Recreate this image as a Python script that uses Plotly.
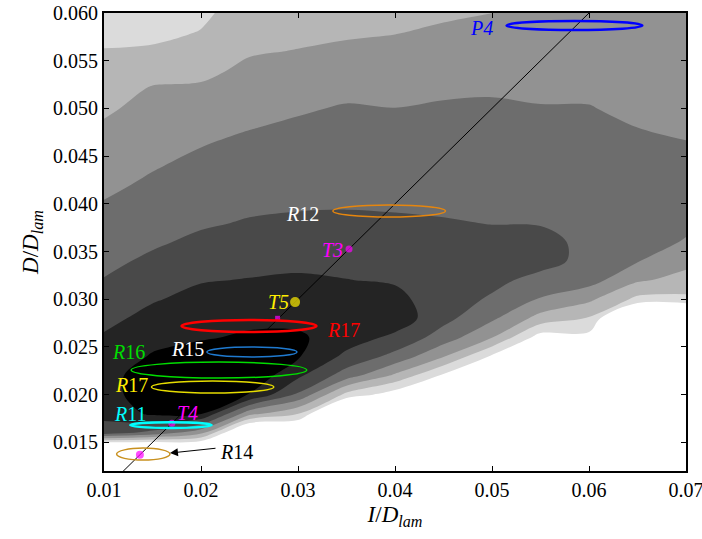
import numpy as np
import plotly.graph_objects as go

# ---------------- background density field (level index) ----------------
x_grid = [0.010, 0.015, 0.020, 0.025, 0.030, 0.035, 0.040, 0.045, 0.050, 0.055, 0.060, 0.065, 0.070]
y_grid = [0.012, 0.014, 0.016, 0.018, 0.020, 0.022, 0.024, 0.026, 0.028, 0.030, 0.032, 0.034, 0.036,
          0.038, 0.040, 0.042, 0.044, 0.046, 0.048, 0.050, 0.052, 0.054, 0.056, 0.058, 0.060]

# one list per x column (bottom -> top)
level_x010 = [-8, -4, 5.0, 5.8, 5.8, 5.8, 5.8, 5.6, 5.24, 4.89, 4.54, 4.28, 4.04, 3.79, 3.55, 3.31, 3.08, 2.85, 2.62, 2.36, 2.09, 1.82, 1.54, 1.27, 1.0]
level_x015 = [-8, -3.43, 4.2, 6.67, 7.5, 7.5, 6.6, 6.16, 5.79, 5.42, 5.05, 4.67, 4.37, 4.13, 3.89, 3.65, 3.43, 3.22, 3.01, 2.79, 2.58, 2.18, 1.66, 1.2, 1.0]
level_x020 = [-8, -2.55, 2.8, 6.55, 7.5, 7.5, 7.0, 6.4, 6.11, 5.78, 5.44, 5.07, 4.69, 4.39, 4.17, 3.94, 3.72, 3.49, 3.2, 2.91, 2.63, 2.29, 1.91, 1.54, 1.3]
level_x025 = [-8, -6, -1.92, 2.83, 6.45, 7.3, 7.3, 6.65, 6.25, 5.89, 5.54, 5.21, 4.89, 4.57, 4.33, 4.12, 3.9, 3.69, 3.47, 3.2, 2.94, 2.68, 2.42, 2.2, 2.0]
level_x030 = [-8, -6, -1.59, 1.53, 4.34, 5.7, 6.6, 6.65, 6.24, 5.93, 5.62, 5.3, 4.97, 4.65, 4.4, 4.21, 4.01, 3.82, 3.63, 3.41, 3.12, 2.82, 2.53, 2.3, 2.1]
level_x035 = [-8, -6, -5, -2.6, 1.18, 4.0, 5.25, 6.0, 5.9, 5.71, 5.52, 5.24, 4.95, 4.66, 4.43, 4.26, 4.09, 3.92, 3.75, 3.57, 3.3, 2.97, 2.64, 2.4, 2.25]
level_x040 = [-8, -6, -5, -3, -0.07, 2.31, 4.19, 5.27, 6.1, 5.77, 5.4, 5.14, 4.88, 4.62, 4.4, 4.22, 4.05, 3.87, 3.69, 3.51, 3.25, 2.98, 2.71, 2.47, 2.3]
level_x045 = [-8, -6, -5, -4, -2, 0.32, 2.55, 4.04, 4.8, 4.95, 4.95, 4.85, 4.7, 4.55, 4.38, 4.22, 4.06, 3.9, 3.74, 3.59, 3.38, 3.12, 2.86, 2.6, 2.4]
level_x050 = [-8, -6, -5, -4, -3, -2, 0.335, 2.54, 3.68, 4.38, 4.75, 4.9, 4.7, 4.48, 4.34, 4.19, 4.05, 3.9, 3.75, 3.6, 3.43, 3.19, 2.95, 2.72, 2.48]
level_x055 = [-8, -6, -5, -4, -3, -2.5, -2, 0.013, 2.13, 3.42, 4.19, 4.85, 4.85, 4.43, 4.28, 4.13, 3.98, 3.83, 3.68, 3.53, 3.4, 3.3, 3.25, 3.2, 3.2]
level_x060 = [-8, -6, -5, -4, -3, -2.5, -2, 0.14, 1.42, 2.7, 3.9, 4.2, 4.2, 4.1, 4.0, 3.9, 3.82, 3.72, 3.62, 3.52, 3.42, 3.35, 3.3, 3.3, 3.3]
level_x065 = [-8, -6, -5, -4, -3, -3, -3, -3, -2.5, 1.25, 2.64, 3.55, 3.9, 4.0, 3.95, 3.88, 3.78, 3.65, 3.5, 3.4, 3.35, 3.3, 3.3, 3.3, 3.3]
level_x070 = [-8, -6, -5, -4, -3, -3, -3, -3, -2.5, 1.27, 2.13, 2.8, 3.43, 3.7, 3.85, 3.85, 3.7, 3.55, 3.4, 3.3, 3.25, 3.25, 3.25, 3.25, 3.25]

level_columns = [level_x010, level_x015, level_x020, level_x025, level_x030, level_x035, level_x040,
                 level_x045, level_x050, level_x055, level_x060, level_x065, level_x070]

gray_levels = ['#ffffff', '#dbdbdb', '#b6b6b6', '#929292', '#6d6d6d', '#494949', '#242424', '#000000']

# ---------------- orbits (ellipses) ----------------
orbit_labels = ['P4', 'R12', 'R17', 'R15', 'R16', 'R17', 'R11', 'R14']
orbit_xmin = [0.0515, 0.0336, 0.0180, 0.0206, 0.0128, 0.0149, 0.0127, 0.0113]
orbit_xmax = [0.0655, 0.0452, 0.0319, 0.0299, 0.0309, 0.0275, 0.0211, 0.0168]
orbit_ymid = [0.05869, 0.03925, 0.02719, 0.02447, 0.02258, 0.02080, 0.01681, 0.01377]
orbit_half_h = [0.00047, 0.00063, 0.00063, 0.00052, 0.00084, 0.00063, 0.00030, 0.00063]
orbit_colors = ['#0000ff', '#e6860e', '#ff0000', '#1f7ad0', '#00dd00', '#e6dc00', '#00ffff', '#c8901e']
orbit_widths = [2.5, 1.5, 2.5, 1.5, 1.5, 1.5, 2.5, 1.5]

# ---------------- fixed points ----------------
point_names = ['T3', 'T5', 'T4', 'R14pt', 'R17pt']
point_x = [0.03526, 0.0297, 0.0170, 0.0137, 0.0279]
point_y = [0.03526, 0.0297, 0.0170, 0.0137, 0.0280]
point_colors = ['#ff00ff', '#ffee00', '#ff00ff', '#ff00ff', '#ff00ff']
point_sizes = [7, 10, 7, 8, 5]
point_symbols = ['circle', 'circle', 'circle', 'circle', 'square']

# ---------------- text labels ----------------
label_text = ['<i>P4</i>', '<i>R</i>12', '<i>T3</i>', '<i>T5</i>', '<i>R</i>17', '<i>R</i>15',
              '<i>R</i>16', '<i>R</i>17', '<i>R</i>11', '<i>T4</i>', '<i>R</i>14']
label_x = [0.0503, 0.0324, 0.0348, 0.0293, 0.0328, 0.0205, 0.0106, 0.0109, 0.0108, 0.0186, 0.0218]
label_y = [0.05840, 0.03890, 0.03520, 0.02970, 0.02677, 0.02478, 0.02450, 0.02100, 0.01800, 0.01807, 0.01398]
label_colors = ['#0000ff', '#ffffff', '#ff00ff', '#ffee00', '#ff0000', '#ffffff',
                '#00dd00', '#ffee00', '#00ffff', '#ff00ff', '#000000']
label_anchor = ['right', 'right', 'right', 'right', 'left', 'right', 'left', 'left', 'left', 'center', 'left']

diag = [0.0, 0.1]

serif = 'Liberation Serif'

fig = go.Figure()

n = len(gray_levels) - 1
cs = []
for k, c in enumerate(gray_levels):
    lo = max(0.0, (k - 0.5) / n)
    hi = min(1.0, (k + 0.5) / n)
    cs.append([lo, c])
    cs.append([hi, c])

fig.add_trace(go.Contour(
    x=x_grid, y=y_grid, z=np.array(level_columns).T.tolist(),
    zmin=0, zmax=7, zauto=False,
    colorscale=cs, showscale=False,
    contours=dict(start=0.5, end=6.5, size=1, coloring='fill', showlines=False),
    line=dict(width=0), hoverinfo='skip'))

fig.add_trace(go.Scatter(x=diag, y=diag, mode='lines',
                         line=dict(color='black', width=1), showlegend=False, hoverinfo='skip'))

for i in range(len(orbit_labels)):
    fig.add_shape(type='circle', xref='x', yref='y',
                  x0=orbit_xmin[i], x1=orbit_xmax[i],
                  y0=orbit_ymid[i] - orbit_half_h[i], y1=orbit_ymid[i] + orbit_half_h[i],
                  line=dict(color=orbit_colors[i], width=orbit_widths[i]))

fig.add_trace(go.Scatter(x=point_x, y=point_y, mode='markers',
                         marker=dict(color=point_colors, size=point_sizes, symbol=point_symbols,
                                     line=dict(width=0)),
                         showlegend=False, hoverinfo='skip'))

for i in range(len(label_text)):
    fig.add_annotation(x=label_x[i], y=label_y[i], text=label_text[i], showarrow=False,
                       xanchor=label_anchor[i], yanchor='middle',
                       font=dict(family=serif, size=20, color=label_colors[i]))

# arrow from R14 label to its orbit
fig.add_annotation(x=0.0168, y=0.01388, ax=0.02165, ay=0.01440, axref='x', ayref='y',
                   xref='x', yref='y', text='', showarrow=True, arrowhead=2, arrowsize=1.6,
                   arrowwidth=1, arrowcolor='black')

axis_common = dict(showline=True, linecolor='black', linewidth=2, mirror='ticks', ticks='inside',
                   ticklen=5, tickwidth=1, tickcolor='black', showgrid=False, zeroline=False,
                   automargin=False, ticklabeloverflow='allow',
                   tickfont=dict(family=serif, size=20, color='black'))

fig.update_xaxes(range=[0.01, 0.07], tickvals=[0.01, 0.02, 0.03, 0.04, 0.05, 0.06, 0.07],
                 ticktext=['0.01', '0.02', '0.03', '0.04', '0.05', '0.06', '0.07'],
                 title=dict(text='<i>I</i>/<i>D</i><sub><i>lam</i></sub>',
                            font=dict(family=serif, size=23, color='black'), standoff=6),
                 **axis_common)
fig.update_yaxes(range=[0.012, 0.060],
                 tickvals=[0.015, 0.020, 0.025, 0.030, 0.035, 0.040, 0.045, 0.050, 0.055, 0.060],
                 ticktext=['0.015', '0.020', '0.025', '0.030', '0.035', '0.040', '0.045', '0.050', '0.055', '0.060'],
                 title=dict(text='<i>D</i>/<i>D</i><sub><i>lam</i></sub>',
                            font=dict(family=serif, size=23, color='black'), standoff=8),
                 **axis_common)

fig.update_layout(width=702, height=539, margin=dict(l=104, r=16, t=13, b=68, autoexpand=False),
                  paper_bgcolor='white', plot_bgcolor='white', showlegend=False)

# remove the browser's default 8 px body margin so the figure fills the window exactly
fig.write_html('out.html', config={'displayModeBar': False},
               post_script="document.body.style.margin='0';")
